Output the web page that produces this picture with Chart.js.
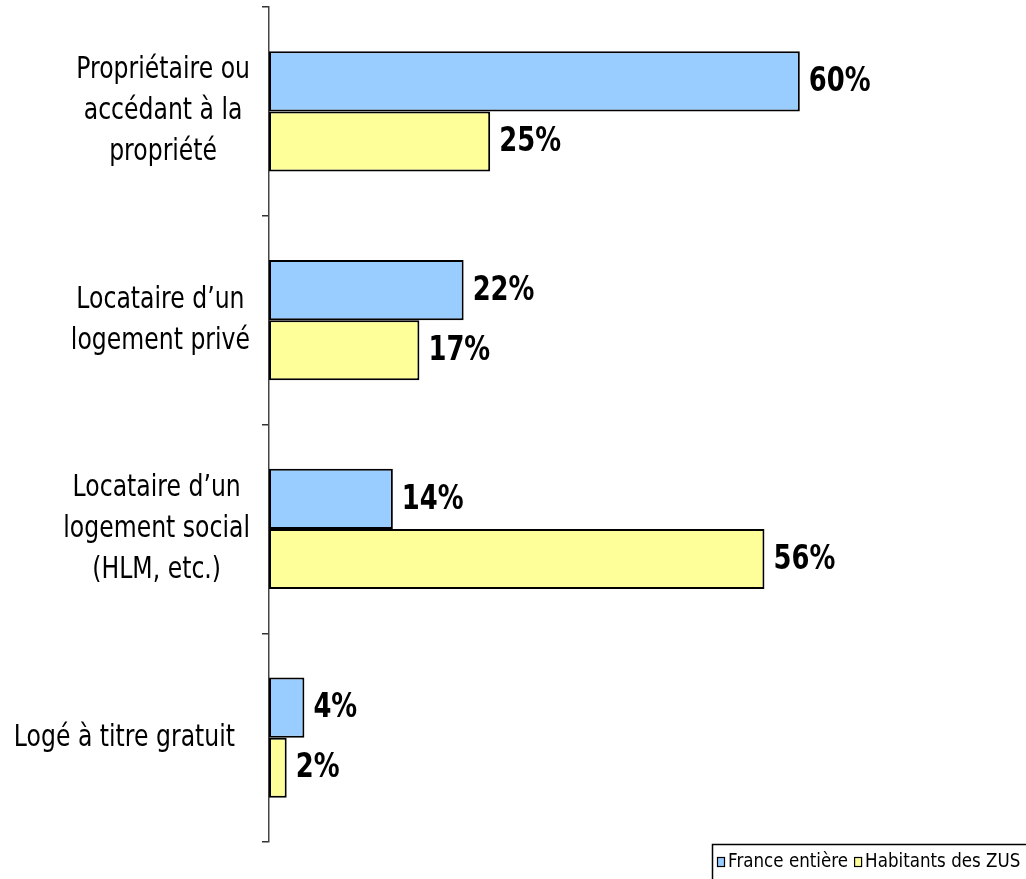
<!DOCTYPE html>
<html>
<head>
<meta charset="utf-8">
<script src="https://cdn.jsdelivr.net/npm/chart.js@4/dist/chart.umd.min.js"></script>
<style>
  html, body { margin: 0; padding: 0; background: #fff; overflow: hidden; }
  #wrap { position: relative; width: 1026px; height: 879px; }
</style>
</head>
<body>
<div id="wrap"><canvas id="chart" width="1026" height="879"></canvas></div>
<script>
const categories = [
    ["Propriétaire ou", "accédant à la", "propriété"],
    ["Locataire d’un", "logement privé"],
    ["Locataire d’un", "logement social", "(HLM, etc.)"],
    ["Logé à titre gratuit  "]
];
const seriesNames = ["France entière", "Habitants des ZUS"];
const franceValues = [60, 22, 14, 4];
const zusValues = [25, 17, 56, 2];

const FONT = "'DejaVu Sans', Verdana, sans-serif";
const SQUEEZE = 0.76;   // the source text is horizontally compressed

function squeezedText(ctx, text, x, y, align, sq) {
    ctx.save();
    ctx.translate(x, y);
    ctx.scale(sq || SQUEEZE, 1);
    ctx.textAlign = align;
    ctx.fillText(text, 0, 0);
    ctx.restore();
}

// category labels, value labels and legend
const drawExtras = {
    id: "drawExtras",
    afterDraw(chart) {
        const ctx = chart.ctx;
        const yScale = chart.scales.y;

        // category labels: block right-aligned, lines centred inside it
        ctx.save();
        ctx.fillStyle = "#000";
        ctx.font = "31px " + FONT;
        ctx.textBaseline = "middle";
        const lineH = 41;
        const rightEdge = 250;
        categories.forEach((lines, i) => {
            const cy = yScale.getPixelForValue(i);
            const maxW = Math.max(...lines.map(l => ctx.measureText(l).width * SQUEEZE));
            const cx = rightEdge - maxW / 2;
            lines.forEach((l, j) => {
                const y = cy + (j - (lines.length - 1) / 2) * lineH;
                squeezedText(ctx, l, cx, y, "center");
            });
        });
        ctx.restore();

        // value labels
        ctx.save();
        ctx.fillStyle = "#000";
        ctx.font = "bold 34px " + FONT;
        ctx.textBaseline = "middle";
        chart.data.datasets.forEach((ds, di) => {
            const meta = chart.getDatasetMeta(di);
            meta.data.forEach((bar, i) => {
                squeezedText(ctx, ds.data[i] + "%", bar.x + 9, bar.y + 1, "left");
            });
        });
        ctx.restore();

        // legend box at bottom right
        ctx.save();
        ctx.strokeStyle = "#000";
        ctx.lineWidth = 1.5;
        ctx.strokeRect(712.5, 844.5, 330, 40);
        ctx.font = "19px " + FONT;
        ctx.textBaseline = "middle";
        const legSq = 0.88;
        let x = 717;
        const y = 862;
        chart.data.datasets.forEach(ds => {
            ctx.fillStyle = ds.backgroundColor;
            ctx.fillRect(x, y - 5, 8, 10);
            ctx.strokeStyle = "#000";
            ctx.lineWidth = 1.2;
            ctx.strokeRect(x + 0.5, y - 4.5, 7, 9);
            x += 11;
            ctx.fillStyle = "#000";
            squeezedText(ctx, ds.label, x, y, "left", legSq);
            x += ctx.measureText(ds.label).width * legSq + 6;
        });
        ctx.restore();
    }
};

new Chart(document.getElementById("chart"), {
    type: "bar",
    data: {
        labels: categories,
        datasets: [
            {
                label: seriesNames[0],
                data: franceValues,
                backgroundColor: "#99CCFF",
                borderColor: "#000",
                borderWidth: 2,
                borderSkipped: false,
                categoryPercentage: 0.575,
                barPercentage: 1
            },
            {
                label: seriesNames[1],
                data: zusValues,
                backgroundColor: "#FFFF99",
                borderColor: "#000",
                borderWidth: 2,
                borderSkipped: false,
                categoryPercentage: 0.575,
                barPercentage: 1
            }
        ]
    },
    options: {
        indexAxis: "y",
        responsive: false,
        animation: false,
        layout: { padding: { top: 7, bottom: 37, left: 0, right: 5 } },
        plugins: {
            legend: { display: false },
            tooltip: { enabled: false }
        },
        scales: {
            x: {
                display: false,
                min: 0,
                max: 85
            },
            y: {
                offset: true,
                ticks: { display: false },
                grid: {
                    offset: true,
                    drawOnChartArea: false,
                    drawTicks: true,
                    tickLength: 7,
                    color: "#333",
                    lineWidth: 1.5
                },
                border: { display: true, color: "#444", width: 1.5 },
                afterFit(scale) { scale.width = 269; }
            }
        }
    },
    plugins: [drawExtras]
});
</script>
</body>
</html>
